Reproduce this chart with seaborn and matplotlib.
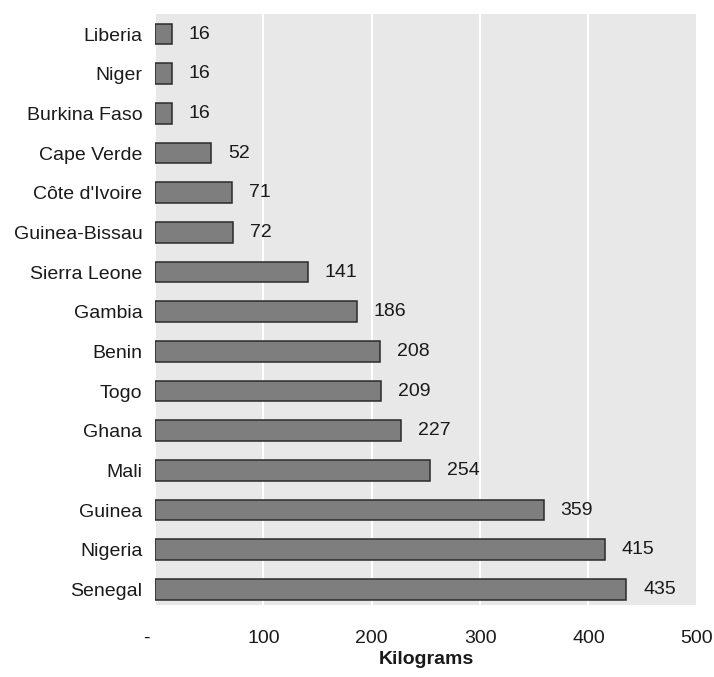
import pandas as pd
import matplotlib.pyplot as plt
import seaborn as sns

# Per-capita quantities by country
countries = [
    "Liberia", "Niger", "Burkina Faso", "Cape Verde", "Côte d'Ivoire",
    "Guinea-Bissau", "Sierra Leone", "Gambia", "Benin", "Togo",
    "Ghana", "Mali", "Guinea", "Nigeria", "Senegal",
]
kilograms = [16, 16, 16, 52, 71, 72, 141, 186, 208, 209, 227, 254, 359, 415, 435]

x_ticks = [0, 100, 200, 300, 400, 500]
x_tick_labels = ["-   ", "100", "200", "300", "400", "500"]

df = pd.DataFrame({"Country": countries, "Kilograms": kilograms})

sns.set_theme(style="darkgrid")
plt.rcParams["font.family"] = ["Liberation Sans", "DejaVu Sans"]

fig = plt.figure(figsize=(7.14, 6.77), dpi=100)
ax = fig.add_axes([0.217, 0.106, 0.759, 0.873])
ax.set_facecolor("#e8e8e8")

sns.barplot(
    data=df, x="Kilograms", y="Country", orient="h", ax=ax,
    color="#7e7e7e", saturation=1, width=0.52,
    edgecolor="#2a2a2a", linewidth=1.1,
)

# value labels next to each bar
ax.bar_label(ax.containers[0], labels=[str(v) for v in kilograms],
             padding=12, fontsize=14, color="#1a1a1a")

ax.set_xlim(0, 500)
ax.set_ylim(len(countries) - 0.6, -0.5)
ax.set_xticks(x_ticks)
ax.set_xticklabels(x_tick_labels, fontsize=14, color="#1a1a1a")
ax.tick_params(axis="y", labelsize=14, labelcolor="#1a1a1a", pad=3)
ax.tick_params(axis="x", pad=12)
ax.grid(axis="y", visible=False)
ax.grid(axis="x", color="white", linewidth=1.5)
ax.set_ylabel("")
ax.set_xlabel("Kilograms", fontsize=14, fontweight="bold", color="#1a1a1a", labelpad=3)
for s in ax.spines.values():
    s.set_visible(False)

fig.savefig("out.png", dpi=100, facecolor="white")
